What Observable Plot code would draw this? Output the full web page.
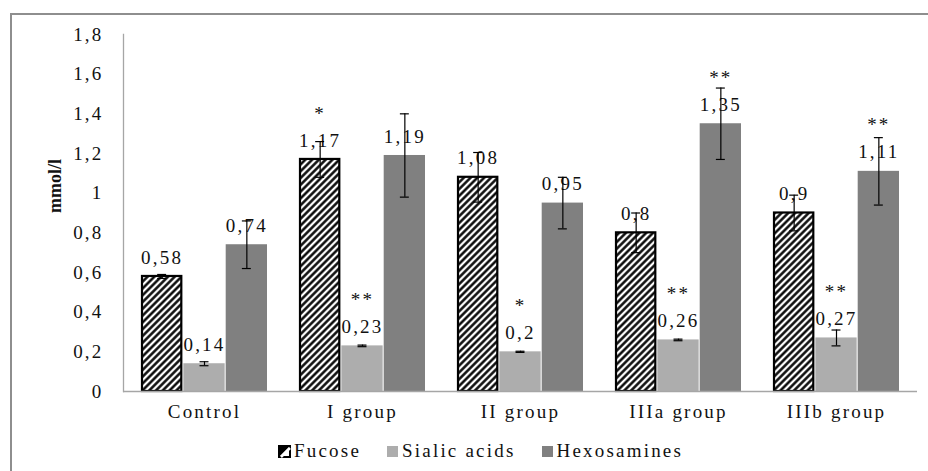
<!DOCTYPE html>
<html>
<head>
<meta charset="utf-8">
<script src="https://cdn.jsdelivr.net/npm/d3@7"></script>
<script src="https://cdn.jsdelivr.net/npm/@observablehq/plot@0.6"></script>
<style>
  html, body { margin: 0; padding: 0; background: white; }
  #wrap { position: relative; width: 928px; height: 471px; overflow: hidden; font-family: "Liberation Serif", "Times New Roman", serif; color: #111; }
  #frame { position: absolute; left: 10px; top: 13px; width: 960px; height: 500px; border-left: 2px solid #8e8e8e; border-top: 2px solid #8e8e8e; z-index: 2; pointer-events: none; }
  #legend { position: absolute; left: 278px; top: 440px; display: flex; align-items: center; font-size: 19px; letter-spacing: 2.2px; white-space: nowrap; }
  #legend .item { display: flex; align-items: center; margin-right: 25px; }
  #legend svg { margin-right: 3px; }
</style>
</head>
<body>
<div id="wrap">
  <div id="frame"></div>
  <div id="chart"></div>
  <div id="legend"></div>
</div>
<script>
// ---- data ----
const groups = ["Control", "I group", "II group", "IIIa group", "IIIb group"];
const seriesNames = ["Fucose", "Sialic acids", "Hexosamines"];
const fucose = [0.58, 1.17, 1.08, 0.8, 0.9];
const sialic = [0.14, 0.23, 0.2, 0.26, 0.27];
const hexosamines = [0.74, 1.19, 0.95, 1.35, 1.11];
const fucoseErr = [0.01, 0.09, 0.125, 0.1, 0.09];
const sialicErr = [0.01, 0.004, 0.003, 0.004, 0.04];
const hexosaminesErr = [0.12, 0.21, 0.13, 0.18, 0.17];
const fucoseStars = ["", "*", "", "", ""];
const sialicStars = ["", "**", "*", "**", "**"];
const hexosaminesStars = ["", "", "", "**", "**"];
const yTicks = [0, 0.2, 0.4, 0.6, 0.8, 1, 1.2, 1.4, 1.6, 1.8];
const yLabel = "mmol/l";

// ---- build table ----
const valuesBySeries = [fucose, sialic, hexosamines];
const errBySeries = [fucoseErr, sialicErr, hexosaminesErr];
const starsBySeries = [fucoseStars, sialicStars, hexosaminesStars];
const rows = [];
seriesNames.forEach((s, k) => groups.forEach((g, i) => rows.push({
  group: g, series: s, k, value: valuesBySeries[k][i], err: errBySeries[k][i], star: starsBySeries[k][i]
})));

const fmt = v => String(+v.toFixed(2)).replace(".", ",");

// ---- layout ----
const W = 928, H = 430, mL = 123, mR = 11, mT = 34, mB = 39;
const padIn = 0.2, padOut = 0.1;
const step = (W - mL - mR) / (groups.length - padIn + 2 * padOut);
const third = step * (1 - padIn) / 3;
const capHalf = 5;
const ink = "#111";

const fills = ["url(#hatch)", "#adadad", "#808080"];
const marks = [];
seriesNames.forEach((s, k) => {
  const data = rows.filter(d => d.k === k);
  marks.push(Plot.barY(data, {
    x: "group", y: "value", fill: fills[k],
    stroke: k === 0 ? "black" : "none", strokeWidth: 2.2,
    insetLeft: k * third + (k === 0 ? 1 : 0), insetRight: (2 - k) * third + (k === 0 ? 1 : 0)
  }));
});
marks.push(Plot.ruleY([0], {stroke: "#a6a6a6", strokeWidth: 1.3}));
marks.push(Plot.frame({anchor: "left", stroke: "#a6a6a6", strokeWidth: 1.3}));
seriesNames.forEach((s, k) => {
  const data = rows.filter(d => d.k === k);
  marks.push(Plot.text(data, {x: "group", y: "value", text: d => fmt(d.value), dx: (k - 1) * third, dy: -19, fill: ink}));
  marks.push(Plot.text(data.filter(d => d.star), {x: "group", y: "value", text: "star", dx: (k - 1) * third, dy: -46, fill: ink}));
  marks.push(Plot.ruleX(data, {x: "group", y1: d => d.value - d.err, y2: d => d.value + d.err, dx: (k - 1) * third, stroke: "black", strokeWidth: 1.2}));
  const inL = k * third + third / 2 - capHalf, inR = (2 - k) * third + third / 2 - capHalf;
  marks.push(Plot.tickY(data, {x: "group", y: d => d.value + d.err, insetLeft: inL, insetRight: inR, stroke: "black", strokeWidth: 1.2}));
  marks.push(Plot.tickY(data, {x: "group", y: d => d.value - d.err, insetLeft: inL, insetRight: inR, stroke: "black", strokeWidth: 1.2}));
});
marks.push(Plot.text([yLabel], {frameAnchor: "left", dx: -68, rotate: -90, text: d => d, fontWeight: "bold", fontSize: 18, fill: ink}));

const chart = Plot.plot({
  width: W, height: H,
  marginLeft: mL, marginRight: mR, marginTop: mT, marginBottom: mB,
  style: {fontFamily: "Liberation Serif, Times New Roman, serif", fontSize: "19px", letterSpacing: "2.2px", color: ink, background: "transparent"},
  x: {domain: groups, paddingInner: padIn, paddingOuter: padOut, tickSize: 0, tickPadding: 13, label: null},
  y: {domain: [0, 1.8], ticks: yTicks, tickFormat: fmt, tickSize: 0, tickPadding: 20, label: null},
  marks
});

const defs = document.createElementNS("http://www.w3.org/2000/svg", "defs");
defs.innerHTML = `<pattern id="hatch" patternUnits="userSpaceOnUse" width="4.8" height="4.8" patternTransform="rotate(45)">
  <rect width="4.8" height="4.8" fill="white"/>
  <line x1="2.4" y1="-1" x2="2.4" y2="6" stroke="black" stroke-width="2.4"/></pattern>`;
chart.insertBefore(defs, chart.firstChild);
d3.select(chart).selectAll("text").filter(function() { return this.textContent === yLabel; })
  .style("letter-spacing", "0px");
document.getElementById("chart").appendChild(chart);

// ---- legend ----
const legend = d3.select("#legend");
seriesNames.forEach((s, k) => {
  const item = legend.append("div").attr("class", "item");
  const sw = item.append("svg").attr("width", 13).attr("height", 13);
  if (k === 0) {
    sw.append("rect").attr("x", 1).attr("y", 1).attr("width", 11).attr("height", 11).attr("fill", "white").attr("stroke", "black").attr("stroke-width", 2);
    sw.append("path").attr("d", "M1,12 L12,1 L1,1 Z").attr("fill", "black");
    sw.append("path").attr("d", "M3,12 L12,3").attr("stroke", "white").attr("stroke-width", 2.5);
  } else {
    sw.append("rect").attr("x", 1).attr("y", 1).attr("width", 11).attr("height", 11).attr("fill", fills[k]);
  }
  item.append("span").text(s);
});
</script>
</body>
</html>
